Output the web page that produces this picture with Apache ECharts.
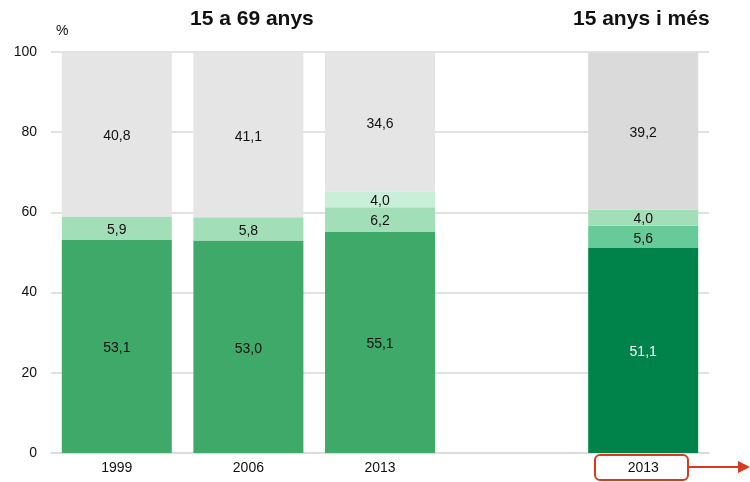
<!DOCTYPE html>
<html>
<head>
<meta charset="utf-8">
<script src="https://cdn.jsdelivr.net/npm/echarts@6/dist/echarts.min.js"></script>
<style>
  html, body { margin: 0; padding: 0; background: #fff; }
  #chart { width: 750px; height: 482px; }
</style>
</head>
<body>
<div id="chart"></div>
<script>
// dades
const categories = ['1999', '2006', '2013', '', '2013']
const base = [53.1, 53.0, 55.1, '-', 51.1]
const second = [5.9, 5.8, 6.2, '-', 5.6]
const third = ['-', '-', 4.0, '-', 4.0]
const rest = [40.8, 41.1, 34.6, '-', 39.2]

// colors per barra
const baseColors = ['#3fa96a', '#3fa96a', '#3fa96a', '#3fa96a', '#00834a']
const secondColors = ['#a2dfb9', '#a2dfb9', '#a2dfb9', '#a2dfb9', '#66cb98']
const thirdColors = ['#c9efd8', '#c9efd8', '#c9efd8', '#c9efd8', '#a2dfb9']
const restColors = ['#e5e5e5', '#e5e5e5', '#e5e5e5', '#e5e5e5', '#dadada']

const font = 'Liberation Sans, Arial, sans-serif'

function fmt(p) {
    return Number(p.value).toFixed(1).replace('.', ',')
}

function makeSeries(name, values, colors, labelColors) {
    return {
        name: name,
        type: 'bar',
        stack: 'total',
        barWidth: 110,
        data: values.map((v, i) => ({
            value: v,
            itemStyle: { color: colors[i] },
            label: { color: labelColors ? labelColors[i] : '#111' }
        })),
        label: {
            show: true,
            position: 'inside',
            offset: [0, 2],
            formatter: fmt,
            fontFamily: font,
            fontSize: 14,
            color: '#111'
        }
    }
}

let chart = echarts.init(document.getElementById('chart'))

chart.setOption({
    animation: false,
    grid: { left: 51, right: 41, top: 52, bottom: 29 },
    xAxis: {
        type: 'category',
        data: categories,
        axisLine: { lineStyle: { color: '#d9d9d9', width: 1.5 } },
        axisTick: { show: false },
        axisLabel: { color: '#111', fontSize: 14, fontFamily: font, margin: 8 }
    },
    yAxis: {
        type: 'value',
        min: 0,
        max: 100,
        interval: 20,
        name: '%',
        nameLocation: 'end',
        nameGap: 14,
        nameTextStyle: { color: '#111', fontSize: 14, fontFamily: font, align: 'left', padding: [0, 0, 0, 5] },
        axisLine: { show: false },
        axisTick: { show: false },
        axisLabel: { color: '#111', fontSize: 14, fontFamily: font, margin: 14 },
        splitLine: { lineStyle: { color: '#d9d9d9', width: 1.5 } }
    },
    series: [
        makeSeries('base', base, baseColors, ['#111', '#111', '#111', '#111', '#fff']),
        makeSeries('second', second, secondColors),
        makeSeries('third', third, thirdColors),
        makeSeries('rest', rest, restColors)
    ],
    graphic: [
        {
            type: 'text', left: 190, top: 9,
            style: { text: '15 a 69 anys', font: 'bold 21px ' + font, fill: '#111' }
        },
        {
            type: 'text', left: 573, top: 9,
            style: { text: '15 anys i més', font: 'bold 21px ' + font, fill: '#111' }
        },
        {
            type: 'rect',
            shape: { x: 595, y: 455, width: 93, height: 25, r: 5 },
            style: { fill: 'none', stroke: '#d63a1f', lineWidth: 2 }
        },
        {
            type: 'line',
            shape: { x1: 689, y1: 467, x2: 740, y2: 467 },
            style: { stroke: '#d63a1f', lineWidth: 2 }
        },
        {
            type: 'polygon',
            shape: { points: [[738, 461], [750, 467], [738, 473]] },
            style: { fill: '#d63a1f' }
        }
    ]
})
</script>
</body>
</html>
